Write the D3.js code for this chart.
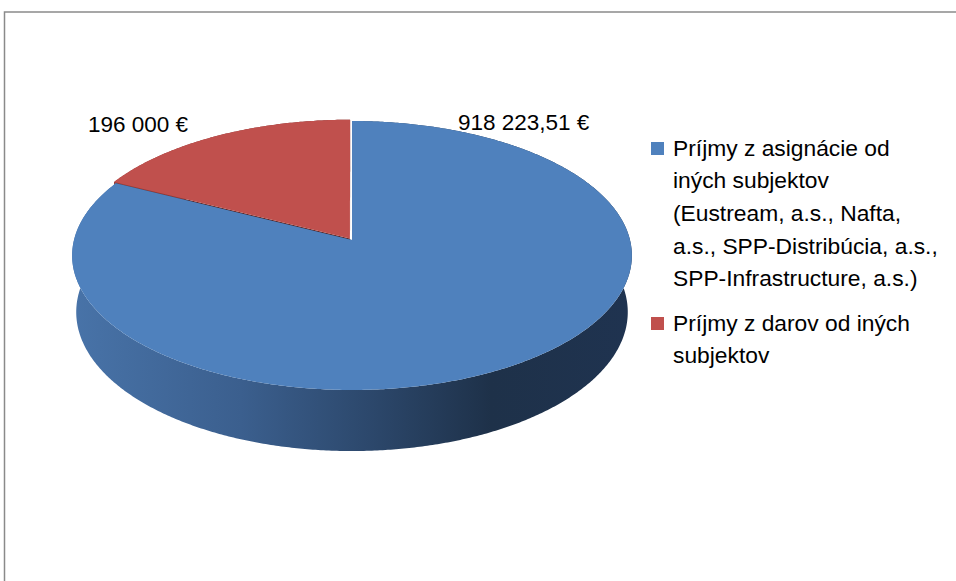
<!DOCTYPE html>
<html>
<head>
<meta charset="utf-8">
<script src="https://cdn.jsdelivr.net/npm/d3@7"></script>
<style>
  body { margin: 0; background: #fff; }
  svg text { font-family: "Liberation Sans", Arial, sans-serif; fill: #000; }
</style>
</head>
<body>
<script>
// data
const categories = [
    "Príjmy z asignácie od iných subjektov (Eustream, a.s., Nafta, a.s., SPP-Distribúcia, a.s., SPP-Infrastructure, a.s.)",
    "Príjmy z darov od iných subjektov"
]
const values = [918223.51, 196000]
const valueLabels = ["918 223,51 €", "196 000 €"]
// legend text wrapped as in the original
const legendLines = [
    ["Príjmy z asignácie od", "iných subjektov", "(Eustream, a.s., Nafta,", "a.s., SPP-Distribúcia, a.s.,", "SPP-Infrastructure, a.s.)"],
    ["Príjmy z darov od iných", "subjektov"]
]
const topColors = ["#4f81bd", "#c0504d"]
const cutColors = ["#2c4668", "#5e2523"]

const W = 956, H = 581
const svg = d3.select("body").append("svg")
    .attr("width", W)
    .attr("height", H)

// chart frame, cut off at right and bottom
svg.append("rect")
    .attr("x", 4.5).attr("y", 12)
    .attr("width", W + 20).attr("height", H + 20)
    .attr("fill", "none")
    .attr("stroke", "#8a8a8a")
    .attr("stroke-width", 1.5)

////// 3D pie geometry (perspective projection) //////
let cx = 352, cy = 240,
    R = 278, T = 65,
    phi = Math.asin(0.4773),
    f = 2120
let sinP = Math.sin(phi), cosP = Math.cos(phi)

// theta clockwise from the back (12 o'clock), y = 0 top face, y = -T bottom
function proj(theta, r, y, off) {
    let x = r * Math.sin(theta) + off.x,
        z = r * Math.cos(theta) + off.z
    let ys = y * cosP + z * sinP,
        d = z * cosP - y * sinP,
        s = f / (f + d)
    return [cx + x * s, cy - ys * s]
}

function rim(a0, a1, y, off) {
    let n = Math.max(2, Math.ceil((a1 - a0) / (Math.PI / 360)))
    return d3.range(n + 1).map(i => proj(a0 + (a1 - a0) * i / n, R, y, off))
}

let arcs = d3.pie().sort(null).value(d => d)(values)
let explode = [0, 4]

let defs = svg.append("defs")
let grad = defs.append("linearGradient")
    .attr("id", "sideBlue")
    .attr("gradientUnits", "userSpaceOnUse")
    .attr("x1", cx - R).attr("x2", cx + R)
    .attr("y1", 0).attr("y2", 0)
grad.selectAll("stop")
    .data([[0, "#4873a8"], [0.3, "#3b5f8e"], [0.55, "#2b4669"], [0.75, "#1e3149"], [1, "#1f3350"]])
    .enter().append("stop")
    .attr("offset", d => d[0])
    .attr("stop-color", d => d[1])
let gradR = defs.append("linearGradient")
    .attr("id", "sideRed")
    .attr("gradientUnits", "userSpaceOnUse")
    .attr("x1", cx - R).attr("x2", cx + R)
    .attr("y1", 0).attr("y2", 0)
gradR.selectAll("stop")
    .data([[0, "#9e3f3d"], [1, "#4a1c1b"]])
    .enter().append("stop")
    .attr("offset", d => d[0])
    .attr("stop-color", d => d[1])

let line = d3.line()
let pieG = svg.append("g").attr("class", "pie3d")

// back slice first (red), then the big blue one
let order = [1, 0]
order.forEach(i => {
    let a = arcs[i]
    let mid = (a.startAngle + a.endAngle) / 2
    let off = { x: explode[i] * Math.sin(mid), z: explode[i] * Math.cos(mid) }
    let g = pieG.append("g").attr("class", "slice slice" + i)
    let apexTop = proj(0, 0, 0, off), apexBot = proj(0, 0, -T, off)

    // cut faces
    ;[a.startAngle, a.endAngle].forEach(ang => {
        let pt = proj(ang, R, 0, off), pb = proj(ang, R, -T, off)
        g.append("path")
            .attr("d", line([apexTop, pt, pb, apexBot]) + "Z")
            .attr("fill", cutColors[i])
    })

    // outer wall as one band (back part is hidden by the top face)
    let tops = rim(a.startAngle, a.endAngle, 0, off),
        bots = rim(a.startAngle, a.endAngle, -T, off)
    g.append("path")
        .attr("class", "wall")
        .attr("d", line(tops.concat(bots.slice().reverse())) + "Z")
        .attr("fill", i == 0 ? "url(#sideBlue)" : "url(#sideRed)")

    // top face
    g.append("path")
        .attr("class", "top")
        .attr("d", line([apexTop].concat(tops)) + "Z")
        .attr("fill", topColors[i])
})

// data labels
let labelPos = [[cx + 106, cy - 110], [cx - 264, cy - 108]]
svg.append("g").selectAll("text")
    .data(valueLabels)
    .enter().append("text")
    .attr("x", (d, i) => labelPos[i][0])
    .attr("y", (d, i) => labelPos[i][1])
    .style("font-size", "22.5px")
    .text(d => d)

// legend
let legX = 651, legY = [142, 317], lineH = 32.7
let leg = svg.append("g").attr("class", "legend")
categories.forEach((c, i) => {
    let item = leg.append("g").attr("transform", `translate(${legX},${legY[i]})`)
    item.append("title").text(c)
    item.append("rect")
        .attr("width", 13).attr("height", 13)
        .attr("fill", topColors[i])
    item.selectAll("text")
        .data(legendLines[i])
        .enter().append("text")
        .attr("x", 22)
        .attr("y", (d, k) => 13.5 + k * lineH)
        .style("font-size", "22.8px")
        .text(d => d)
})
</script>
</body>
</html>
